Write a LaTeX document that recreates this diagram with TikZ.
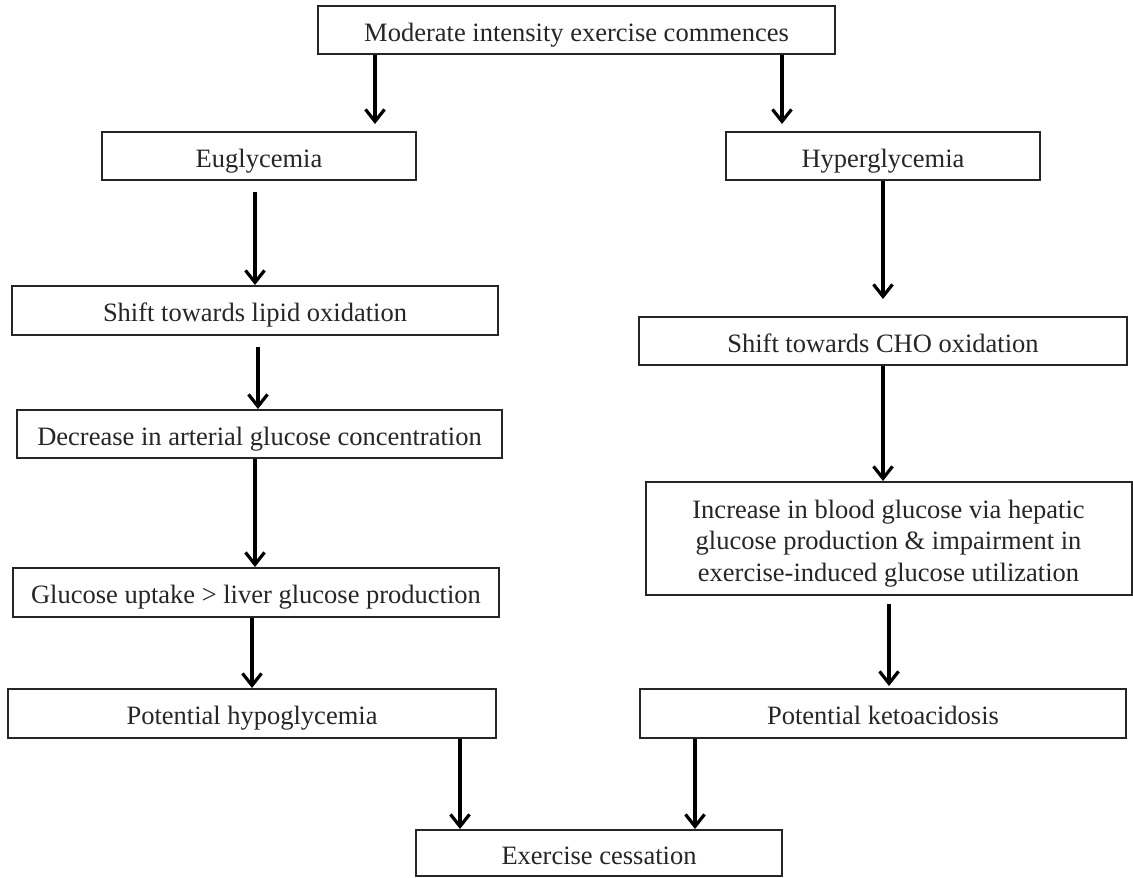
\documentclass[tikz,border=0pt]{standalone}
\usepackage{fontspec}
\setmainfont{Liberation Serif}
\usetikzlibrary{arrows.meta}
\begin{document}
\begin{tikzpicture}[x=1pt,y=-1pt,
  box/.style={draw=black!85,line width=2pt,rectangle,inner sep=0pt,align=center,
    font=\fontsize{26.5}{31.5}\selectfont,text=black!85},
  one/.style={box,text height=22pt,text depth=0pt},
  arr/.style={line width=3.2pt,-{Straight Barb[length=12pt,width=19pt,line width=3.2pt]}}]
\useasboundingbox (0,0) rectangle (1133,878);
\fill[white] (0,0) rectangle (1133,878);
\node[one,minimum width=517pt,minimum height=48pt] (top) at (576.5,30) {Moderate intensity exercise commences};
\node[one,minimum width=314pt,minimum height=48pt] (eu) at (259,156) {Euglycemia};
\node[one,minimum width=314pt,minimum height=48pt] (hyper) at (883,156) {Hyperglycemia};
\node[one,minimum width=486pt,minimum height=49pt] (lipid) at (255,310.5) {Shift towards lipid oxidation};
\node[one,minimum width=488pt,minimum height=48pt] (cho) at (883,341) {Shift towards CHO oxidation};
\node[one,minimum width=485pt,minimum height=48pt] (dec) at (259.5,434) {Decrease in arterial glucose concentration};
\node[box,minimum width=486pt,minimum height=113pt] (inc) at (888.5,538.5) {\rule{0pt}{28pt}Increase in blood glucose via hepatic\\glucose production \& impairment in\\exercise-induced glucose utilization};
\node[one,minimum width=486pt,minimum height=49pt] (glu) at (256,592.5) {Glucose uptake > liver glucose production};
\node[one,minimum width=488pt,minimum height=49pt] (hypo) at (252,713.5) {Potential hypoglycemia};
\node[one,minimum width=486pt,minimum height=49pt] (keto) at (883,713.5) {Potential ketoacidosis};
\node[one,minimum width=366pt,minimum height=46pt] (cess) at (599,853) {Exercise cessation};
\coordinate (a1) at (375,0);
\coordinate (a2) at (782,0);
\coordinate (a3) at (255,0);
\coordinate (a4) at (883,0);
\coordinate (a5) at (258,0);
\coordinate (a6) at (889,0);
\coordinate (a7) at (252,0);
\coordinate (a8) at (460,0);
\coordinate (a9) at (695,0);
\draw[arr] (top.south -| a1) -- ([yshift=7pt]eu.north -| a1);
\draw[arr] (top.south -| a2) -- ([yshift=7pt]hyper.north -| a2);
\draw[arr] ([yshift=-11pt]eu.south -| a3) -- (lipid.north -| a3);
\draw[arr] (hyper.south -| a4) -- ([yshift=17pt]cho.north -| a4);
\draw[arr] ([yshift=-11pt]lipid.south -| a5) -- (dec.north -| a5);
\draw[arr] (cho.south -| a4) -- (inc.north -| a4);
\draw[arr] (dec.south -| a3) -- (glu.north -| a3);
\draw[arr] ([yshift=-8pt]inc.south -| a6) -- ([yshift=2pt]keto.north -| a6);
\draw[arr] (glu.south -| a7) -- (hypo.north -| a7);
\draw[arr] (hypo.south -| a8) -- (cess.north -| a8);
\draw[arr] (keto.south -| a9) -- (cess.north -| a9);
\end{tikzpicture}
\end{document}
